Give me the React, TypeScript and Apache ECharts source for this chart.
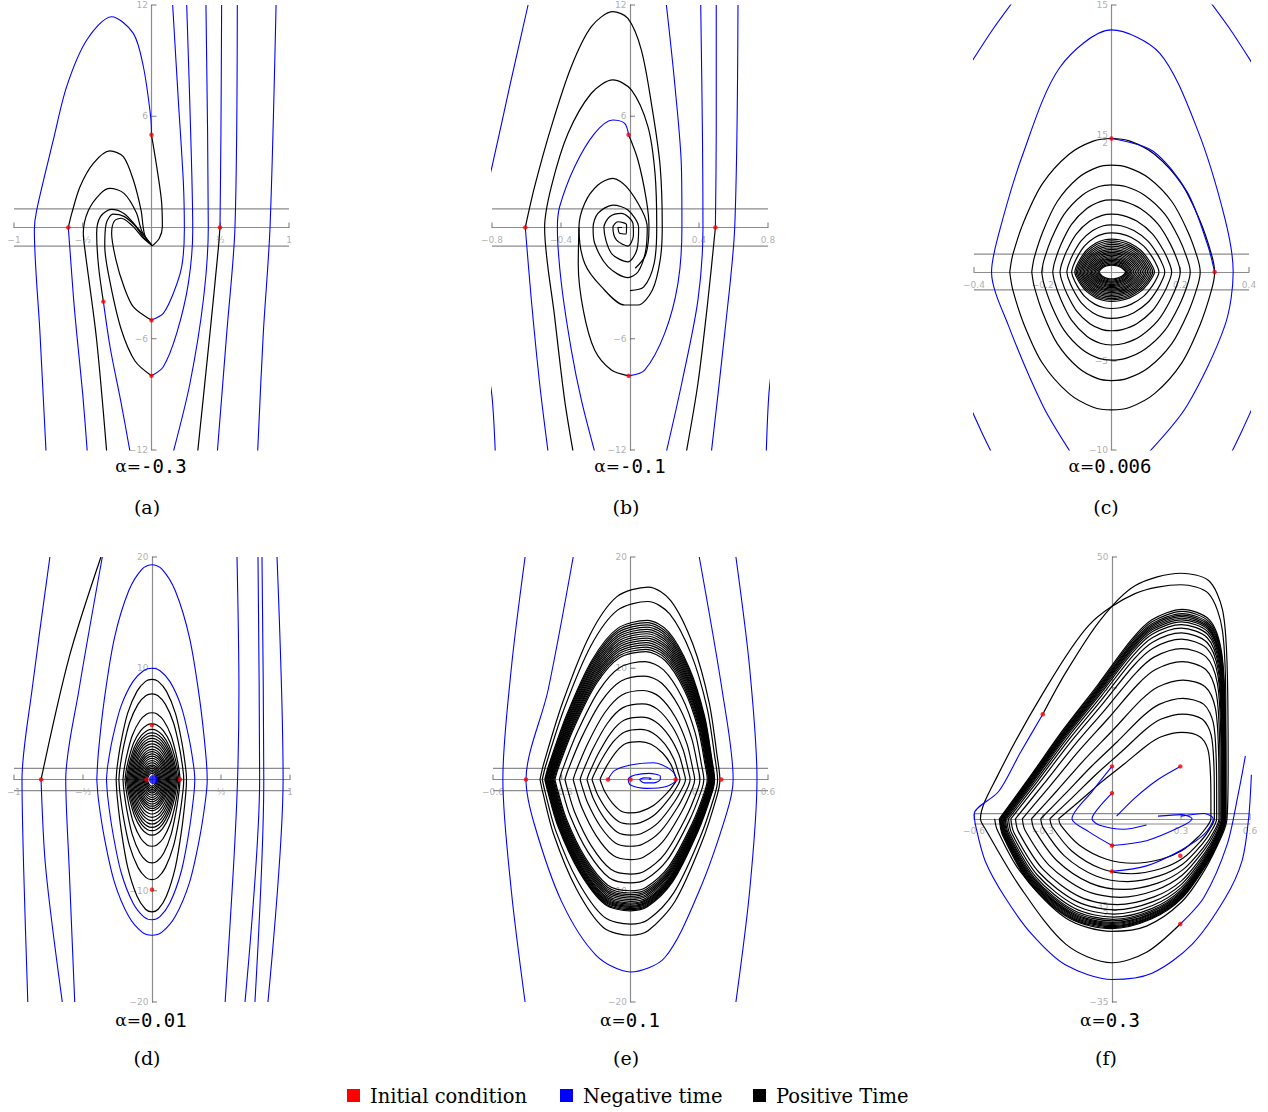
import React, { useEffect, useRef } from "react";
import * as echarts from "echarts";

type P = number[];

// ---------------- Panel (a)  alpha = -0.3 ----------------
const aBlue: P[][] = [
  [[-0.767,-12.1],[-0.811,-5.71],[-0.852,-0.13],[-0.835,0.94],[-0.714,4.72],[-0.617,7.6],[-0.471,10.11],[-0.29,11.37],[-0.132,10.47],[-0.059,8.67],[-0.006,5.98],[0,5.0]],
  [[-0.605,0],[-0.593,-1.21],[-0.565,-4],[-0.544,-5.71],[-0.5,-9],[-0.467,-12.1]],
  [[-0.35,-4.0],[-0.3,-6.5],[-0.22,-9.5],[-0.156,-12.1]],
  [[0.154,12],[0.195,6.87],[0.232,2.38],[0.239,-0.13],[0.22,-2.1],[0.159,-3.55],[0.086,-4.63],[0,-4.99]],
  [[0.256,12],[0.285,5.08],[0.3,-0.13],[0.268,-3.01],[0.183,-5.71],[0.086,-7.51],[0,-8.0]],
  [[0.396,12],[0.413,0],[0.377,-3.91],[0.28,-8.4],[0.159,-12.09]],
  [[0.498,0],[0.505,5.08],[0.51,12]],
  [[0.624,12],[0.607,0],[0.547,-5.71],[0.479,-12.09]],
  [[0.906,12],[0.862,0],[0.813,-5.71],[0.772,-12.09]],
];
const aBlack: P[][] = [
  [[0,5],[0.038,3.28],[0.072,1.48],[0.079,0.04],[0.057,-0.58],[0.006,-0.99]],
  [[-0.605,0],[-0.58,0.76],[-0.52,2.2],[-0.423,3.46],[-0.302,4.13],[-0.205,3.82],[-0.132,2.56],[-0.075,0.9],[-0.062,0.1],[-0.045,-0.5],[0.006,-0.99]],
  [[-0.326,-12.09],[-0.4,-6],[-0.484,-1.21],[-0.496,-0.31],[-0.46,0.9],[-0.37,1.84],[-0.302,2.11],[-0.2,1.84],[-0.11,0.8],[-0.07,-0.2],[0.006,-0.99]],
  [[-0.35,-4.0],[-0.385,-2.1],[-0.399,-0.31],[-0.37,0.6],[-0.29,0.98],[-0.2,0.75],[-0.11,0.05],[0.006,-0.99]],
  [[0,-5],[-0.13,-4.3],[-0.2,-3.2],[-0.26,-1.7],[-0.29,-0.3],[-0.27,0.35],[-0.22,0.5],[-0.14,0.1],[-0.07,-0.5],[0.006,-0.99]],
  [[0,-8],[-0.12,-7.2],[-0.22,-5.5],[-0.3,-3],[-0.34,-1],[-0.33,0.2],[-0.28,0.72],[-0.2,0.6],[-0.12,0.1],[-0.06,-0.5],[0.006,-0.99]],
  [[0.498,0],[0.485,-1.21],[0.425,-5.71],[0.336,-12.09]],
];
const aRed: P[] = [[0,5],[-0.605,0],[-0.35,-4],[0,-5],[0,-8],[0.498,0]];

// ---------------- Panel (b)  alpha = -0.1 ----------------
const bBlue: P[][] = [
  [[-0.591,12],[-0.7,7.5],[-0.8,3.28],[-0.83,2.2]],
  [[-0.83,-7.5],[-0.8,-9.1],[-0.781,-12.1]],
  [[0.83,-7.0],[0.805,-9],[0.79,-12.1]],
  [[-0.607,0],[-0.572,-3.9],[-0.524,-8.4],[-0.475,-12.1]],
  [[-0.008,5.0],[-0.031,5.62],[-0.099,5.8],[-0.205,5.08],[-0.321,3.28],[-0.408,1.12],[-0.421,0],[-0.398,-3.01],[-0.34,-6.61],[-0.282,-9.3],[-0.205,-12.09]],
  [[-0.008,-8],[0.085,-7.69],[0.201,-5.71],[0.278,-3.01],[0.301,0],[0.298,3.28],[0.259,7.78],[0.211,12]],
  [[0.495,0],[0.5,5.08],[0.5,12]],
  [[0.41,12],[0.42,5],[0.423,0],[0.394,-3.9],[0.3,-8.4],[0.211,-12.09]],
  [[0.626,12],[0.607,0],[0.549,-5.71],[0.472,-12.09]],
];
const bBlack: P[][] = [
  [[-0.607,0],[-0.553,2.2],[-0.456,5.44],[-0.34,8.68],[-0.224,10.83],[-0.099,11.64],[-0.012,11.28],[0.066,9.57],[0.13,6.34],[0.175,3.28],[0.187,0],[0.175,-1.75],[0.13,-3.37],[0.046,-4.18],[-0.031,-4.18],[-0.166,-3.19],[-0.263,-1.93],[-0.296,0],[-0.263,1.3],[-0.186,2.29],[-0.099,2.65],[-0.021,2.2],[0.07,0.9],[0.1,0],[0.09,-1.3],[0.046,-2.4],[-0.012,-2.7],[-0.128,-2.11],[-0.205,-0.85],[-0.214,0],[-0.186,0.76],[-0.099,1.21],[-0.012,0.94],[0.05,0],[0.04,-1.2],[-0.012,-1.85],[-0.108,-1.39],[-0.151,0],[-0.118,0.58],[-0.05,0.76],[0.017,0.22],[0.02,-0.4],[-0.012,-1.0],[-0.079,-0.67],[-0.099,0],[-0.07,0.31],[-0.02,0.15],[-0.021,-0.35],[-0.06,-0.31],[-0.07,0],[-0.046,0]],
  [[-0.33,-12.09],[-0.379,-9.3],[-0.437,-4.81],[-0.495,0],[-0.456,2.2],[-0.359,5.08],[-0.224,7.24],[-0.099,7.96],[0.008,7.42],[0.104,5.44],[0.145,2.92],[0.155,0],[0.14,-1.93],[0.08,-3.2],[0,-3.4]],
  [[-0.008,5.0],[0.046,3.64],[0.095,1.48],[0.11,0],[0.09,-1.5],[0.03,-2.2]],
  [[-0.008,-8],[-0.108,-7.69],[-0.205,-6.61],[-0.27,-4.5],[-0.3,-2],[-0.296,0]],
  [[0.495,0],[0.452,-3.91],[0.394,-8.4],[0.327,-12.09]],
];
const bRed: P[] = [[-0.607,0],[-0.008,5],[-0.008,-8],[0.495,0]];

// ---------------- Panel (c)  alpha = 0.006 ----------------
const cBlue: P[][] = [
  [[-0.42,11.4],[-0.35,13.5],[-0.29,15.1]],
  [[0.29,15.1],[0.35,13.5],[0.42,11.4]],
  [[-0.42,-7.2],[-0.38,-8.9],[-0.35,-10.1]],
  [[0.35,-10.1],[0.38,-8.9],[0.42,-7.2]],
  [[-0.12,-10.1],[-0.2,-7.5],[-0.3,-3],[-0.349,0],[-0.33,2],[-0.26,6.5],[-0.15,11.5],[0,13.6],[0.14,12.3],[0.25,8],[0.33,3],[0.354,0],[0.33,-3],[0.22,-7.5],[0.11,-10.1]],
  [[0,7.5],[0.12,6.8],[0.22,4.5],[0.28,1.5],[0.3,0]],
];
// concentric closed loops: left corner, right corner, top, bottom
const cLeft = [-0.296,-0.232,-0.203,-0.171,-0.15,-0.13,-0.116,-0.107,-0.103,-0.099,-0.095,-0.091,-0.087,-0.083,-0.079,-0.075,-0.071,-0.067,-0.063,-0.059,-0.055,-0.051,-0.047,-0.043,-0.039,-0.036];
const cRight = [0.3,0.258,0.229,0.2,0.175,0.155,0.138,0.125,0.12,0.115,0.11,0.105,0.1,0.095,0.09,0.085,0.08,0.075,0.07,0.065,0.06,0.056,0.052,0.048,0.044,0.041];
const cTop = [7.5,6.0,4.9,4.05,3.25,2.65,2.2,1.85,1.75,1.65,1.55,1.45,1.36,1.27,1.18,1.1,1.02,0.94,0.86,0.79,0.72,0.65,0.58,0.51,0.44,0.38];
const cBottom = [-7.75,-6.1,-4.95,-4.1,-3.3,-2.6,-2.05,-1.65,-1.56,-1.48,-1.4,-1.32,-1.24,-1.16,-1.09,-1.02,-0.95,-0.88,-0.81,-0.75,-0.69,-0.63,-0.57,-0.51,-0.45,-0.39];
const cRed: P[] = [[0,7.5],[0.3,0]];

// ---------------- Panel (d)  alpha = 0.01 ----------------
const dBlue: P[][] = [
  [[-0.9,-20],[-0.93,-8],[-0.942,0],[-0.87,8],[-0.74,20]],
  [[-0.804,0],[-0.77,-8],[-0.65,-20]],
  [[-0.56,-20],[-0.6,-8],[-0.625,0],[-0.53,8],[-0.36,20]],
  [[0.616,20],[0.63,8],[0.62,0],[0.59,-8],[0.53,-20]],
  [[0.768,20],[0.78,0],[0.674,-20]],
  [[0.797,20],[0.81,0],[0.746,-20]],
  [[0.906,20],[0.95,0],[0.84,-20]],
];
const dBlackOpen: P[][] = [
  [[-0.804,0],[-0.6,11],[-0.37,20]],
];
// closed loops; first two are blue (negative time), the rest black
const dLeft = [-0.4,-0.33,-0.26,-0.24,-0.21,-0.195,-0.185,-0.177,-0.169,-0.161,-0.153,-0.145,-0.137,-0.129,-0.121,-0.113,-0.105,-0.097,-0.089,-0.081,-0.073,-0.065,-0.057,-0.049,-0.041,-0.033];
const dRight = [0.4,0.31,0.25,0.23,0.203,0.195,0.185,0.177,0.169,0.161,0.153,0.145,0.137,0.129,0.121,0.113,0.105,0.097,0.089,0.081,0.073,0.065,0.057,0.049,0.041,0.033];
const dTop = [19.3,10.0,9.0,7.7,6.0,5.0,4.5,4.2,3.95,3.7,3.45,3.2,2.95,2.7,2.5,2.3,2.1,1.9,1.7,1.5,1.3,1.15,1.0,0.85,0.7,0.55];
const dBottom = [-14.0,-12.6,-11.9,-9.0,-7.5,-6.0,-5.0,-4.6,-4.3,-4.0,-3.7,-3.4,-3.1,-2.8,-2.6,-2.4,-2.2,-2.0,-1.8,-1.6,-1.4,-1.2,-1.05,-0.9,-0.75,-0.6];
const dRed: P[] = [[-0.804,0],[0,4.9],[0,-9.9],[0.203,0],[-0.04,0]];

// ---------------- Panel (e)  alpha = 0.1 ----------------
const eBlue: P[][] = [
  [[-0.46,20],[-0.52,10],[-0.557,0],[-0.52,-10],[-0.46,-20]],
  [[0.46,20],[0.52,10],[0.552,0],[0.52,-10],[0.46,-20]],
  [[-0.25,20],[-0.36,8],[-0.456,0],[-0.42,-4],[-0.3,-11],[-0.15,-15.8],[0,-17.3],[0.15,-16],[0.3,-10],[0.42,-3],[0.448,0],[0.4,8],[0.3,20]],
  [[-0.098,0],[-0.07,0.8],[0,1.3],[0.1,1.5],[0.18,0.8],[0.2,0],[0.16,-0.6],[0.07,-0.8],[0,-0.5],[-0.01,0],[0.02,0.4],[0.08,0.55],[0.13,0.3],[0.13,0],[0.1,-0.3],[0.06,-0.3],[0.04,0],[0.06,0.15],[0.09,0.1],[0.08,0]],
];
const eLeft = [-0.395,-0.385,-0.374,-0.371,-0.368,-0.365,-0.362,-0.359,-0.356,-0.353,-0.35,-0.347,-0.344,-0.341,-0.338,-0.334,-0.33,-0.31,-0.286,-0.25,-0.22,-0.19,-0.168,-0.133];
const eRight = [0.39,0.38,0.367,0.365,0.363,0.361,0.359,0.357,0.355,0.353,0.351,0.349,0.347,0.345,0.342,0.339,0.335,0.32,0.303,0.28,0.26,0.24,0.216,0.2];
const eTop = [17.3,16.0,14.3,14.1,13.9,13.7,13.5,13.3,13.1,12.9,12.7,12.5,12.3,12.1,11.9,11.7,11.5,10.6,9.3,8.0,6.8,5.6,4.5,3.4];
const eBottom = [-14.0,-13.0,-11.8,-11.7,-11.6,-11.5,-11.4,-11.3,-11.2,-11.1,-10.95,-10.8,-10.65,-10.5,-10.35,-10.2,-10.0,-9.3,-8.5,-7.2,-6.0,-5.0,-4.0,-3.0];
const eRed: P[] = [[-0.456,0],[-0.098,0],[0,0],[0.197,0],[0.396,0]];

// ---------------- Panel (f)  alpha = 0.3 ----------------
const fBlue: P[][] = [
  [[-0.301,19.97],[-0.4,12.5],[-0.493,5.2],[-0.599,0.9],[-0.594,-1.1],[-0.551,-8.1],[-0.464,-15.1],[-0.348,-22.1],[-0.203,-27.9],[0,-30.7],[0.174,-29.5],[0.348,-24],[0.493,-15.1],[0.565,-8.1],[0.594,0.1],[0.606,8.4]],
  [[0,10],[-0.087,5.2],[-0.174,0],[-0.1,-2.5],[0,-5.1]],
  [[0,4.9],[-0.06,2],[-0.087,0],[-0.05,-1.3],[0.05,-2],[0.15,-1.2]],
  [[0.297,10],[0.2,7.5],[0.1,4],[0.02,0.5]],
  [[0,-5.1],[0.15,-4.2],[0.3,-1.5],[0.348,0],[0.3,0.8],[0.2,0.5]],
  [[0,-10.05],[0.15,-9],[0.3,-6],[0.4,-3],[0.44,0],[0.4,1],[0.3,0.5]],
  [[0.297,-20.1],[0.4,-15],[0.5,-5],[0.55,5],[0.58,12]],
];
const fBlackOpen: P[][] = [
  [[-0.301,19.97],[-0.2,28],[-0.05,38],[0.1,44.5],[0.3,46.9],[0.42,45.5],[0.48,40],[0.5,30],[0.505,10],[0.5,0],[0.48,-3],[0.4,-10],[0.3,-16],[0.15,-20.5],[0,-21.5],[-0.2,-19],[-0.4,-10],[-0.5,-2],[-0.51,0]],
  [[0.297,-20.1],[0.15,-25.5],[0,-27.5],[-0.2,-24],[-0.4,-13],[-0.55,-2],[-0.572,0],[-0.5,8],[-0.3,24],[-0.1,37],[0.1,43],[0.3,44.7],[0.42,43],[0.48,36],[0.495,20],[0.495,0]],
];
const fLeft = [-0.49,-0.487,-0.484,-0.481,-0.478,-0.475,-0.472,-0.468,-0.464,-0.458,-0.45,-0.44,-0.42,-0.39,-0.35,-0.31,-0.27,-0.232];
const fRight = [0.495,0.494,0.493,0.492,0.49,0.489,0.488,0.486,0.484,0.482,0.48,0.478,0.475,0.47,0.465,0.455,0.445,0.43];
const fTop = [40,39.6,39.2,38.9,38.6,38.3,38.0,37.6,37.1,36.4,35.5,34.3,32.5,30,26.5,23,20,16.5];
const fBottom = [-21,-20.8,-20.6,-20.4,-20.2,-20.0,-19.8,-19.5,-19.2,-18.8,-18.2,-17.4,-16.4,-15,-13.5,-12,-10.5,-8.5];
const fRed: P[] = [[-0.301,19.97],[0,10],[0,4.9],[0.297,10],[0,-5.1],[0,-10.05],[0.297,-7.06],[0.297,-20.1]];

// Axis tick values
const aXT = [-1,-0.5,0.5,1], aYT = [-12,-6,6,12];
const bXT = [-0.8,-0.4,0.4,0.8], bYT = [-12,-6,6,12];
const cXT = [-0.4,-0.2,0.2,0.4], cYT = [-10,-5,7.5,15];
const dXT = [-1,-0.5,0.5,1], dYT = [-20,-10,10,20];
const eXT = [-0.6,-0.3,0.3,0.6], eYT = [-20,-10,10,20];
const fXT = [-0.6,-0.3,0.3,0.6], fYT = [-35,-17.5,25,50];
const alphas = ["-0.3","-0.1","0.006","0.01","0.1","0.3"];
const letters = ["(a)","(b)","(c)","(d)","(e)","(f)"];

// loop shape profiles (normalised)
const TPL_SYM: P[] = [[-1,0],[-0.97,0.13],[-0.86,0.38],[-0.68,0.66],[-0.42,0.88],[-0.18,0.98],[0,1],[0.18,0.98],[0.42,0.88],[0.68,0.66],[0.86,0.38],[0.97,0.13],[1,0],[0.97,-0.13],[0.86,-0.38],[0.68,-0.66],[0.42,-0.88],[0.18,-0.98],[0,-1],[-0.18,-0.98],[-0.42,-0.88],[-0.68,-0.66],[-0.86,-0.38],[-0.97,-0.13],[-1,0]];
const TPL_E: P[] = [[-1,0],[-0.96,0.08],[-0.75,0.4],[-0.45,0.75],[-0.15,0.95],[0.2,1],[0.45,0.93],[0.7,0.7],[0.88,0.4],[0.97,0.12],[1,0],[0.97,-0.1],[0.8,-0.4],[0.5,-0.78],[0.2,-0.97],[0,-1],[-0.3,-0.95],[-0.6,-0.7],[-0.85,-0.35],[-0.97,-0.08],[-1,0]];
const TPL_F: P[] = [[-1,0],[-0.731,0.2],[-0.43,0.43],[-0.13,0.64],[0.167,0.855],[0.347,0.95],[0.616,1],[0.855,0.95],[0.961,0.8],[0.995,0.5],[1,0.2],[1,0],[0.946,-0.18],[0.838,-0.4],[0.616,-0.72],[0.347,-0.91],[-0.012,-1],[-0.372,-0.91],[-0.731,-0.59],[-0.971,-0.15],[-1,0]];

function loopSym(L: number, R: number, T: number, B: number, tpl: P[]): P[] {
  return tpl.map(([u, v]) => [u < 0 ? -u * L : u * R, v >= 0 ? v * T : -v * B]);
}
function loopLin(L: number, R: number, T: number, B: number, tpl: P[]): P[] {
  return tpl.map(([u, v]) => [L + ((u + 1) / 2) * (R - L), v >= 0 ? v * T : -v * B]);
}

const BLUE = "#0000ff";
const BLACK = "#000000";
const RED = "#ff0000";
const AXIS = "#8c8c8c";
const LABEL = "#9a9a9a";

function fmtTick(v: number): string {
  if (v === -0.5) return "−½";
  if (v === 0.5) return "½";
  if (v === 7.5) return "15\n2";
  if (v === -17.5) return "−35\n2";
  return v < 0 ? "−" + String(-v) : String(v);
}

export default function App() {
  const ref = useRef<HTMLDivElement>(null);
  useEffect(() => {
    const chart = echarts.init(ref.current!, null, { renderer: "svg" });

    const grids = [
      { left: 14, top: 5, width: 275, height: 445 },
      { left: 492, top: 5, width: 276, height: 445 },
      { left: 974, top: 5, width: 275, height: 445 },
      { left: 14, top: 557, width: 276, height: 445 },
      { left: 493, top: 557, width: 275, height: 445 },
      { left: 974, top: 557, width: 276, height: 445 },
    ];
    const ranges = [
      { x: [-1, 1], y: [-12, 12], xt: aXT, yt: aYT },
      { x: [-0.8, 0.8], y: [-12, 12], xt: bXT, yt: bYT },
      { x: [-0.4, 0.4], y: [-10, 15], xt: cXT, yt: cYT },
      { x: [-1, 1], y: [-20, 20], xt: dXT, yt: dYT },
      { x: [-0.6, 0.6], y: [-20, 20], xt: eXT, yt: eYT },
      { x: [-0.6, 0.6], y: [-35, 50], xt: fXT, yt: fYT },
    ];

    const blues: P[][][] = [
      aBlue, bBlue, cBlue,
      [...dBlue, ...[0, 1].map((i) => loopSym(dLeft[i], dRight[i], dTop[i], dBottom[i], TPL_SYM))],
      eBlue, fBlue,
    ];
    const blacks: P[][][] = [
      aBlack,
      bBlack,
      cLeft.map((_, i) => loopSym(cLeft[i], cRight[i], cTop[i], cBottom[i], TPL_SYM)),
      [...dBlackOpen, ...dLeft.slice(2).map((_, k) => loopSym(dLeft[k + 2], dRight[k + 2], dTop[k + 2], dBottom[k + 2], TPL_SYM))],
      eLeft.map((_, i) => loopSym(eLeft[i], eRight[i], eTop[i], eBottom[i], TPL_E)),
      [...fBlackOpen, ...fLeft.map((_, i) => loopLin(fLeft[i], fRight[i], fTop[i], fBottom[i], TPL_F))],
    ];
    const reds: P[][] = [aRed, bRed, cRed, dRed, eRed, fRed];

    const xAxis: any[] = [];
    const yAxis: any[] = [];
    const series: any[] = [];
    const labelStyle = { color: LABEL, fontSize: 9, fontFamily: "DejaVu Sans", lineHeight: 8 };

    ranges.forEach((r, i) => {
      xAxis.push({
        type: "value", gridIndex: i, min: r.x[0], max: r.x[1], splitLine: { show: false },
        axisLine: { onZero: true, lineStyle: { color: AXIS, width: 1.2 } },
        axisTick: { show: false }, axisLabel: { show: false }, z: 1,
      });
      yAxis.push({
        type: "value", gridIndex: i, min: r.y[0], max: r.y[1], splitLine: { show: false },
        axisLine: { onZero: true, lineStyle: { color: AXIS, width: 1.2 } },
        axisTick: { show: false }, axisLabel: { show: false }, z: 1,
      });
      [1, -1].forEach((yy) => {
        series.push({
          type: "line", xAxisIndex: i, yAxisIndex: i, data: [[r.x[0], yy], [r.x[1], yy]],
          showSymbol: false, silent: true, lineStyle: { color: AXIS, width: 1.2 }, z: 1,
        });
      });
      series.push({
        type: "scatter", xAxisIndex: i, yAxisIndex: i, data: r.xt.map((v) => [v, 0]),
        symbol: "rect", symbolSize: [1, 5], symbolOffset: [0, -2.5], itemStyle: { color: "#555" }, silent: true, z: 1,
      });
      series.push({
        type: "scatter", xAxisIndex: i, yAxisIndex: i, data: r.yt.map((v) => [0, v]),
        symbol: "rect", symbolSize: [5, 1], symbolOffset: [2.5, 0], itemStyle: { color: "#555" }, silent: true, z: 1,
      });
      series.push({
        type: "scatter", xAxisIndex: i, yAxisIndex: i, data: r.xt.map((v) => [v, 0]),
        symbol: "circle", symbolSize: 1, itemStyle: { color: "rgba(0,0,0,0)" }, silent: true, z: 1,
        label: { show: true, position: "bottom", distance: 8, formatter: (p: any) => fmtTick(p.value[0]), ...labelStyle },
      });
      series.push({
        type: "scatter", xAxisIndex: i, yAxisIndex: i, data: r.yt.map((v) => [0, v]),
        symbol: "circle", symbolSize: 1, itemStyle: { color: "rgba(0,0,0,0)" }, silent: true, z: 1,
        label: { show: true, position: "left", distance: 3, formatter: (p: any) => fmtTick(p.value[1]), ...labelStyle },
      });
      blues[i].forEach((c) => {
        series.push({
          type: "line", xAxisIndex: i, yAxisIndex: i, data: c, smooth: 0.3,
          showSymbol: false, silent: true, lineStyle: { color: BLUE, width: 1.1 }, z: 3,
        });
      });
      blacks[i].forEach((c) => {
        series.push({
          type: "line", xAxisIndex: i, yAxisIndex: i, data: c, smooth: 0.3,
          showSymbol: false, silent: true, lineStyle: { color: BLACK, width: 1.2 }, z: 2,
        });
      });
      series.push({
        type: "scatter", xAxisIndex: i, yAxisIndex: i, data: reds[i], symbolSize: 4.5,
        itemStyle: { color: RED }, silent: true, z: 5,
      });
    });
    series.push({
      type: "scatter", xAxisIndex: 3, yAxisIndex: 3, data: [[0.01, 0]], symbolSize: 9,
      itemStyle: { color: BLUE }, silent: true, z: 4,
    });

    const centers = [151, 630, 1110, 151, 630, 1110];
    const graphic: any[] = [];
    centers.forEach((cx, i) => {
      const row = i < 3 ? 0 : 1;
      graphic.push({
        type: "text", x: cx, y: row === 0 ? 466 : 1020,
        style: {
          text: "{s|α=}{m|" + alphas[i] + "}",
          align: "center", verticalAlign: "middle",
          rich: {
            s: { fontFamily: "DejaVu Serif", fontSize: 17, fill: "#000" },
            m: { fontFamily: "DejaVu Sans Mono", fontSize: 19, fill: "#000" },
          },
        },
      });
      graphic.push({
        type: "text", x: cx - 4, y: row === 0 ? 507 : 1058,
        style: { text: letters[i], align: "center", verticalAlign: "middle", fontFamily: "DejaVu Serif", fontSize: 19, fill: "#000" },
      });
    });
    const legendItems = [
      { c: RED, t: "Initial condition", x: 347 },
      { c: BLUE, t: "Negative time", x: 560 },
      { c: BLACK, t: "Positive Time", x: 753 },
    ];
    legendItems.forEach((it) => {
      graphic.push({ type: "rect", shape: { x: it.x, y: 1089, width: 13, height: 13 }, style: { fill: it.c } });
      graphic.push({
        type: "text", x: it.x + 23, y: 1096,
        style: { text: it.t, align: "left", verticalAlign: "middle", fontFamily: "DejaVu Serif", fontSize: 19.5, fill: "#000" },
      });
    });

    chart.setOption({
      animation: false,
      backgroundColor: "#fff",
      grid: grids.map((g) => ({ ...g, containLabel: false, outerBoundsMode: "none" })),
      xAxis, yAxis, series, graphic,
    });
    return () => chart.dispose();
  }, []);
  return <div ref={ref} style={{ position: "fixed", left: 0, top: 0, width: 1268, height: 1112, background: "#fff" }} />;
}
